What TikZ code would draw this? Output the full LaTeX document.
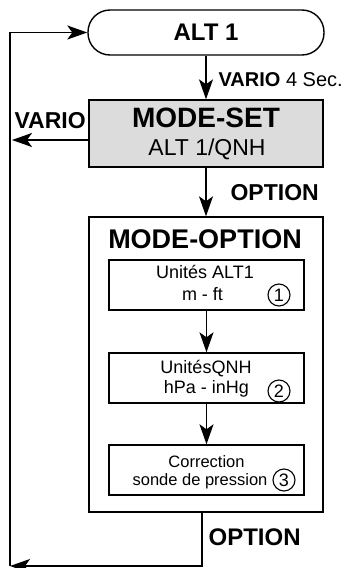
\documentclass[tikz,border=0pt]{standalone}
\usepackage{fontspec}
\setmainfont{Liberation Sans}
\usetikzlibrary{arrows.meta}
\definecolor{boxgray}{RGB}{220,220,220}
\begin{document}
\begin{tikzpicture}[x=1pt,y=-1pt,line width=1.2pt,
  arr/.style={-{Stealth[length=20pt,width=14pt,inset=5pt]}},
  frame/.style={draw,line width=1.4pt,inner sep=0pt},
  lbl/.style={anchor=base west,inner sep=0pt},
  txt/.style={anchor=base,inner sep=0pt},
  circ/.style={circle,draw,line width=1.1pt,inner sep=0pt,minimum size=22pt,
               font=\fontsize{18}{18}\selectfont},
  midr/.style={font=\fontsize{18}{22}\selectfont},
  smallr/.style={font=\fontsize{16.5}{20}\selectfont}]
\useasboundingbox (0,0) rectangle (352,568);
% boxes
\node[frame,rounded corners=22pt,minimum width=236pt,minimum height=45pt,
      font=\fontsize{24}{28}\selectfont\bfseries] (alt) at (206,32.5) {ALT 1};
\node[frame,fill=boxgray,minimum width=234pt,minimum height=67pt] (mset) at (206,133.5) {};
\node[txt,font=\fontsize{28}{30}\selectfont\bfseries] (msettitle) at (206,127) {MODE-SET};
\node[txt,font=\fontsize{23}{26}\selectfont] (msetsub) at (207,155) {ALT 1/QNH};
\node[frame,minimum width=234pt,minimum height=295pt] (mopt) at (206,364.5) {};
\node[txt,font=\fontsize{27}{30}\selectfont\bfseries] (mopttitle) at (205,248) {MODE-OPTION};
\node[frame,minimum width=195pt,minimum height=50pt] (b1) at (206.5,285) {};
\node[frame,minimum width=195pt,minimum height=50pt] (b2) at (206.5,378) {};
\node[frame,minimum width=195pt,minimum height=50pt] (b3) at (206.5,470) {};
% inner texts
\node[txt,midr] (t1a) at (205,278) {Unités ALT1};
\node[txt,midr] (t1b) at (202.5,300) {m - ft};
\node[circ] (n1) at (279,295) {1};
\node[txt,midr] (t2a) at (206,373) {UnitésQNH};
\node[txt,midr] (t2b) at (206.5,393) {hPa - inHg};
\node[circ] (n2) at (279,391) {2};
\node[txt,smallr] (t3a) at (206.5,467) {Correction};
\node[txt,smallr] (t3b) at (200,485) {sonde de pression};
\node[circ] (n3) at (284,480) {3};
% labels
\node[lbl] (lvario) at (218,86) {\fontsize{20}{24}\selectfont\bfseries VARIO\ \mdseries 4 Sec.};
\node[lbl,font=\fontsize{23}{26}\selectfont\bfseries] (lvario2) at (14,128) {VARIO};
\node[lbl,font=\fontsize{23}{26}\selectfont\bfseries] (lopt1) at (230,200) {OPTION};
\node[lbl,font=\fontsize{24}{26}\selectfont\bfseries] (lopt2) at (208,545) {OPTION};
% coordinates
\coordinate (vend) at (12,140);
\coordinate (c1) at (202,566);
\coordinate (c2) at (10,566);
\coordinate (c3) at (10,32.5);
% connectors
\draw[arr] (alt.south) -- (mset.north);
\draw[arr] (mset.west |- vend) -- (vend);
\draw[arr] (mset.south) -- (mopt.north);
\draw[arr] (b1.south) -- (b2.north);
\draw[arr] (b2.south) -- (b3.north);
\draw[arr] (mopt.south -| c1) -- (c1) -- (c2);
\draw[arr] (c2) -- (c3) -- (alt.west);
\end{tikzpicture}
\end{document}
